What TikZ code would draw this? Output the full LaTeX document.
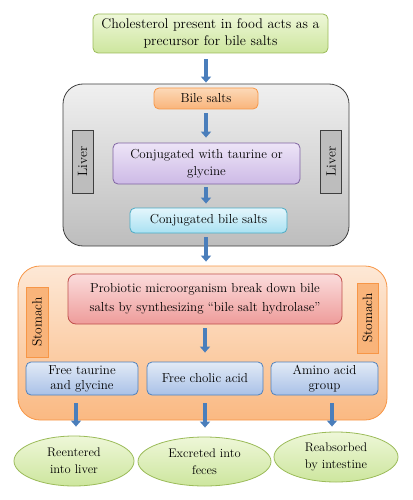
\documentclass[tikz,border=0pt]{standalone}
\usetikzlibrary{arrows.meta,shapes.geometric}
\definecolor{arrowblue}{HTML}{4A7EBB}
\definecolor{greenT}{HTML}{EEF7D8}
\definecolor{greenB}{HTML}{CDE69E}
\definecolor{greenD}{HTML}{9BBB59}
\definecolor{grayT}{HTML}{F0F0F0}
\definecolor{grayB}{HTML}{BDBDBD}
\definecolor{grayD}{HTML}{3F3F3F}
\definecolor{orT}{HTML}{FCD9B8}
\definecolor{orB}{HTML}{F9B47A}
\definecolor{orD}{HTML}{F79646}
\definecolor{puT}{HTML}{EDE4F7}
\definecolor{puB}{HTML}{CDBAE6}
\definecolor{puD}{HTML}{8064A2}
\definecolor{cyT}{HTML}{E4F6FC}
\definecolor{cyB}{HTML}{A9E1F2}
\definecolor{cyD}{HTML}{4BACC6}
\definecolor{stT}{HTML}{FDE8D6}
\definecolor{stB}{HTML}{FAB982}
\definecolor{rdT}{HTML}{FBDCDC}
\definecolor{rdB}{HTML}{EE9C9A}
\definecolor{rdD}{HTML}{C0504D}
\definecolor{blT}{HTML}{E2EAF6}
\definecolor{blB}{HTML}{A9C1E7}
\definecolor{blD}{HTML}{4F81BD}
\tikzset{
  box/.style={draw, rounded corners=5pt, align=center, inner sep=0pt, line width=0.8pt},
  greenbox/.style={box, draw=greenD, top color=greenT, bottom color=greenB},
  orbox/.style={box, draw=orD, top color=orT, bottom color=orB},
  pubox/.style={box, draw=puD, top color=puT, bottom color=puB},
  cybox/.style={box, draw=cyD, top color=cyT, bottom color=cyB},
  rdbox/.style={box, draw=rdD, top color=rdT, bottom color=rdB},
  blbox/.style={box, draw=blD, top color=blT, bottom color=blB},
  lbl/.style={draw, inner sep=0pt, line width=0.8pt, rotate=90, font=\fontsize{13.5}{15}\selectfont},
  oval/.style={ellipse, draw=greenD, line width=0.8pt, top color=greenT, bottom color=greenB, align=center, inner sep=0pt, font=\fontsize{12.5}{17}\selectfont},
  barrow/.style={draw=arrowblue, line width=3.5pt, -{Triangle[width=10pt,length=6pt]}}
}
\begin{document}
\begin{tikzpicture}[x=1pt,y=-1pt, font=\fontsize{13}{17}\selectfont]
\useasboundingbox (0,0) rectangle (412,500);
% background containers
\node[box, rounded corners=20pt, draw=grayD, top color=grayT, bottom color=grayB, minimum width=286pt, minimum height=162pt] (liverbg) at (206,165) {};
\node[box, rounded corners=22pt, draw=orD, top color=stT, bottom color=stB, minimum width=369pt, minimum height=154pt] (stombg) at (202.5,343) {};
% top
\node[greenbox, minimum width=235pt, minimum height=39pt, font=\fontsize{14}{17}\selectfont] (top) at (210.5,33.5) {Cholesterol present in food acts as a\\precursor for bile salts};
% liver
\node[orbox, minimum width=104pt, minimum height=21pt] (bile) at (206,98.5) {Bile salts};
\node[lbl, draw=grayD, fill=grayB, minimum width=63pt, minimum height=21pt] (liverL) at (82.5,161.5) {Liver};
\node[lbl, draw=grayD, fill=grayB, minimum width=63pt, minimum height=21pt] (liverR) at (331,161.5) {Liver};
\node[pubox, minimum width=187pt, minimum height=41pt] (conj) at (206.5,163.5) {Conjugated with taurine or\\glycine};
\node[cybox, minimum width=157pt, minimum height=25pt] (cbs) at (208.5,220.5) {Conjugated bile salts};
% stomach
\node[rdbox, rounded corners=8pt, minimum width=274pt, minimum height=50pt, font=\fontsize{13}{18.5}\selectfont] (prob) at (205,299) {Probiotic microorganism break down bile\\salts by synthesizing “bile salt hydrolase”};
\node[lbl, draw=orD, fill=orB, minimum width=70pt, minimum height=22pt] (stomL) at (37,322) {Stomach};
\node[lbl, draw=orD, fill=orB, minimum width=70pt, minimum height=21pt] (stomR) at (367.5,318) {Stomach};
\node[blbox, minimum width=112pt, minimum height=33pt, font=\fontsize{13}{15}\selectfont] (ftg) at (82,378.5) {Free taurine\\and glycine};
\node[blbox, minimum width=116pt, minimum height=33pt] (fca) at (205,378.5) {Free cholic acid};
\node[blbox, minimum width=107pt, minimum height=33pt, font=\fontsize{13}{15}\selectfont] (aag) at (324.5,378.5) {Amino acid\\group};
% outcomes
\node[oval, minimum width=120pt, minimum height=50pt] (reent) at (74,461) {Reentered\\into liver};
\node[oval, minimum width=133pt, minimum height=49pt] (excr) at (204.5,461.5) {Excreted into\\feces};
\node[oval, minimum width=124pt, minimum height=50pt] (reabs) at (336,457) {Reabsorbed\\by intestine};
% arrows
\draw[barrow, shorten <=6pt, shorten >=5pt] (top.south -| bile.north) -- (bile.north);
\draw[barrow, shorten <=4pt, shorten >=5pt] (bile.south) -- (bile.south |- conj.north);
\draw[barrow, shorten <=3pt, shorten >=4pt] (bile.south |- conj.south) -- (bile.south |- cbs.north);
\draw[barrow, shorten <=4pt, shorten >=12pt] (bile.south |- cbs.south) -- (bile.south |- prob.north);
\draw[barrow, shorten <=4pt, shorten >=9pt] (prob.south) -- (fca.north);
\coordinate (aL) at ([xshift=2pt]reent.north |- ftg.south);
\coordinate (aR) at ([xshift=-4pt]reabs.north |- aag.south);
\draw[barrow, shorten <=8pt, shorten >=9pt] (aL) -- (aL |- reent.north);
\draw[barrow, shorten <=8pt, shorten >=9pt] (fca.south) -- (fca.south |- excr.north);
\draw[barrow, shorten <=8pt, shorten >=5pt] (aR) -- (aR |- reabs.north);
\end{tikzpicture}
\end{document}
